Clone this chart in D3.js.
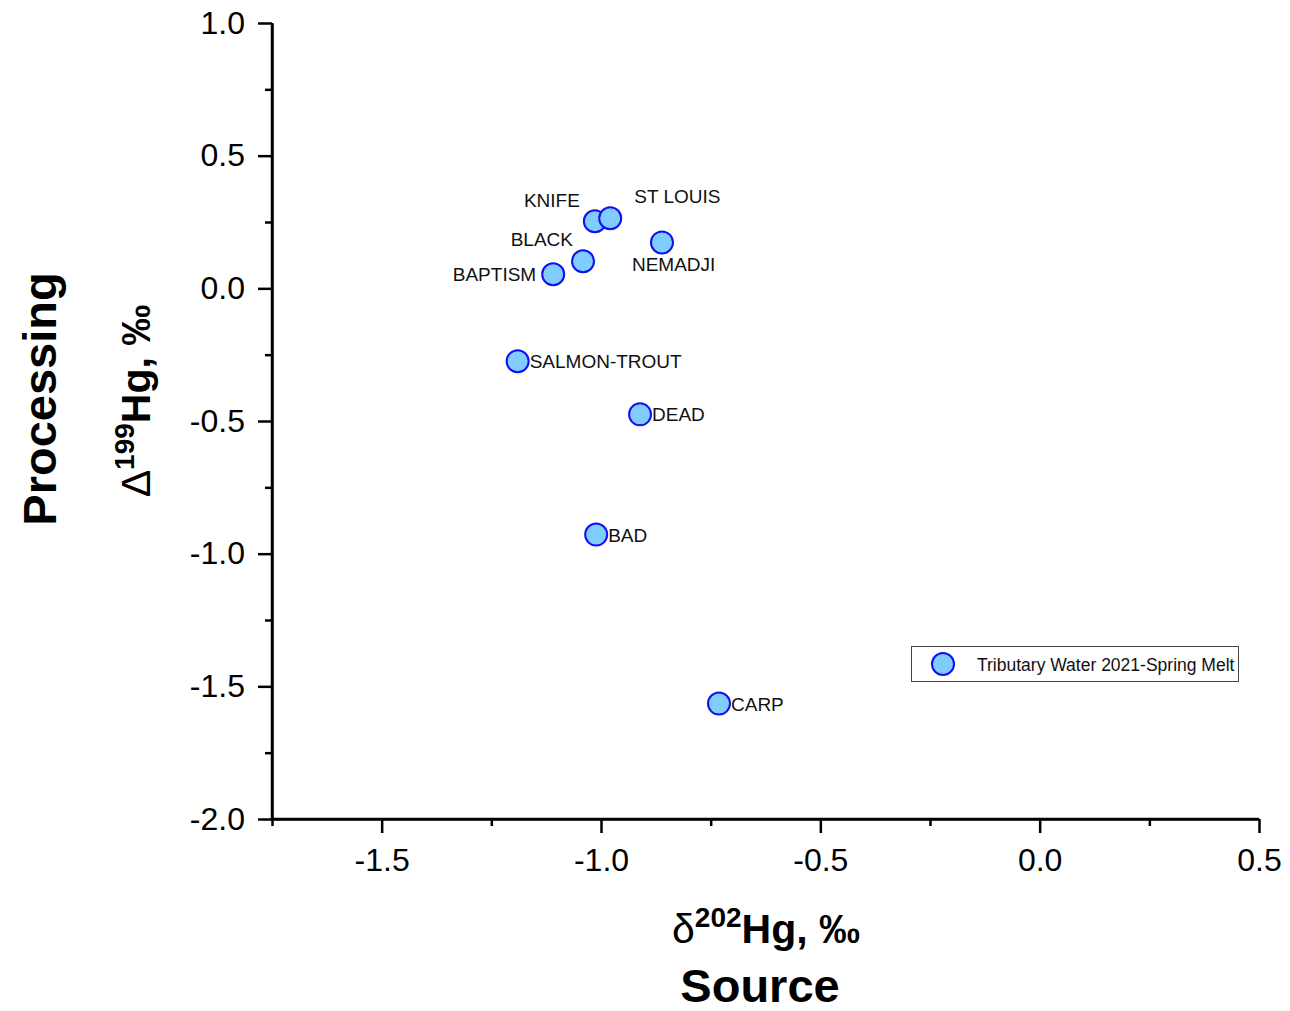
<!DOCTYPE html>
<html>
<head>
<meta charset="utf-8">
<script src="https://cdn.jsdelivr.net/npm/d3@7"></script>
<style>
  html, body { margin: 0; padding: 0; background: #fff; }
  svg { display: block; font-family: "Liberation Sans", Arial, sans-serif; }
</style>
</head>
<body>
<svg id="chart" width="1290" height="1011"></svg>
<script>
// Tributary water Hg isotope values (spring melt 2021)
const sites = ["KNIFE", "ST LOUIS", "NEMADJI", "BLACK", "BAPTISM", "SALMON-TROUT", "DEAD", "BAD", "CARP"];
const d202 = [-1.014, -0.979, -0.861, -1.041, -1.109, -1.190, -0.911, -1.011, -0.731];
const D199 = [0.253, 0.264, 0.173, 0.102, 0.053, -0.275, -0.475, -0.928, -1.565];
// label placement relative to each point: [dx, dy, anchor]
const labelPos = [
  [-15, -14, "end"], [24, -15, "start"], [-30, 29, "start"], [-10, -15, "end"],
  [-17, 7, "end"], [12, 7, "start"], [12, 7, "start"], [12, 7, "start"], [12, 7, "start"]
];
const xTicks = [-1.5, -1.0, -0.5, 0.0, 0.5];
const yTicks = [1.0, 0.5, 0.0, -0.5, -1.0, -1.5, -2.0];
const xMinor = [-1.75, -1.25, -0.75, -0.25, 0.25];
const yMinor = [0.75, 0.25, -0.25, -0.75, -1.25, -1.75];
const legendLabel = "Tributary Water 2021-Spring Melt";

const svg = d3.select("#chart");
const x = d3.scaleLinear().domain([-1.75, 0.5]).range([272, 1259]);
const y = d3.scaleLinear().domain([-2.0, 1.0]).range([819, 23]);

const axisW = 2.5;
// one decimal, plain hyphen for negatives
const fmt = d => d.toFixed(1);

// y axis
const gy = svg.append("g").attr("transform", `translate(${x(-1.75)},0)`);
gy.call(d3.axisLeft(y).tickValues(yTicks).tickFormat(fmt).tickSize(14).tickSizeOuter(0).tickPadding(13));
gy.append("g").call(d3.axisLeft(y).tickValues(yMinor).tickFormat("").tickSize(7).tickSizeOuter(0));

// x axis
const gx = svg.append("g").attr("transform", `translate(0,${y(-2.0)})`);
gx.call(d3.axisBottom(x).tickValues(xTicks).tickFormat(fmt).tickSize(14).tickSizeOuter(0).tickPadding(15));
gx.append("g").call(d3.axisBottom(x).tickValues(xMinor).tickFormat("").tickSize(7).tickSizeOuter(0));

svg.selectAll(".domain").attr("stroke", "#000").attr("stroke-width", axisW);
svg.selectAll(".tick line").attr("stroke", "#000").attr("stroke-width", axisW);
svg.selectAll(".tick text")
  .attr("font-size", 32).attr("fill", "#000")
  .attr("font-family", "'Liberation Sans', Arial, sans-serif");
// extend domain lines so the corner closes
gy.select(".domain").attr("d", `M0,${y(1.0)}V${y(-2.0) + 1}`);
gx.select(".domain").attr("d", `M${x(-1.75) - 1},0H${x(0.5)}`);

// points
const data = sites.map((s, i) => ({ s, x: d202[i], y: D199[i], p: labelPos[i] }));
svg.append("g").selectAll("circle").data(data).join("circle")
  .attr("cx", d => x(d.x)).attr("cy", d => y(d.y)).attr("r", 11)
  .attr("fill", "#80CCFF").attr("stroke", "#1010F0").attr("stroke-width", 2);

svg.append("g").selectAll("text").data(data).join("text")
  .attr("x", d => x(d.x) + d.p[0]).attr("y", d => y(d.y) + d.p[1])
  .attr("text-anchor", d => d.p[2])
  .attr("font-size", 19).attr("fill", "#111")
  .text(d => d.s);

// legend
const lg = svg.append("g");
lg.append("rect").attr("x", 911.5).attr("y", 646.5).attr("width", 327).attr("height", 35)
  .attr("fill", "#fff").attr("stroke", "#444").attr("stroke-width", 1);
lg.append("circle").attr("cx", 943).attr("cy", 664).attr("r", 11)
  .attr("fill", "#80CCFF").attr("stroke", "#1010F0").attr("stroke-width", 2);
lg.append("text").attr("x", 977).attr("y", 671).attr("font-size", 17.5).attr("fill", "#111").text(legendLabel);

// axis titles
const xt = svg.append("text").attr("x", 766).attr("y", 943).attr("text-anchor", "middle")
  .attr("font-size", 41).attr("font-weight", "bold").attr("fill", "#000");
xt.append("tspan").attr("font-weight", "normal").text("δ");
xt.append("tspan").attr("dy", -16).attr("font-size", 28).text("202");
xt.append("tspan").attr("dy", 16).text("Hg, ‰");

svg.append("text").attr("x", 760).attr("y", 1002).attr("text-anchor", "middle")
  .attr("font-size", 47).attr("font-weight", "bold").attr("fill", "#000").text("Source");

const yt = svg.append("text").attr("transform", "translate(150,401) rotate(-90)").attr("text-anchor", "middle")
  .attr("font-size", 41).attr("font-weight", "bold").attr("fill", "#000");
yt.append("tspan").attr("font-weight", "normal").text("Δ");
yt.append("tspan").attr("dy", -16).attr("font-size", 28).text("199");
yt.append("tspan").attr("dy", 16).text("Hg, ‰");

svg.append("text").attr("transform", "translate(56,399) rotate(-90)").attr("text-anchor", "middle")
  .attr("font-size", 47).attr("font-weight", "bold").attr("fill", "#000").text("Processing");
</script>
</body>
</html>
